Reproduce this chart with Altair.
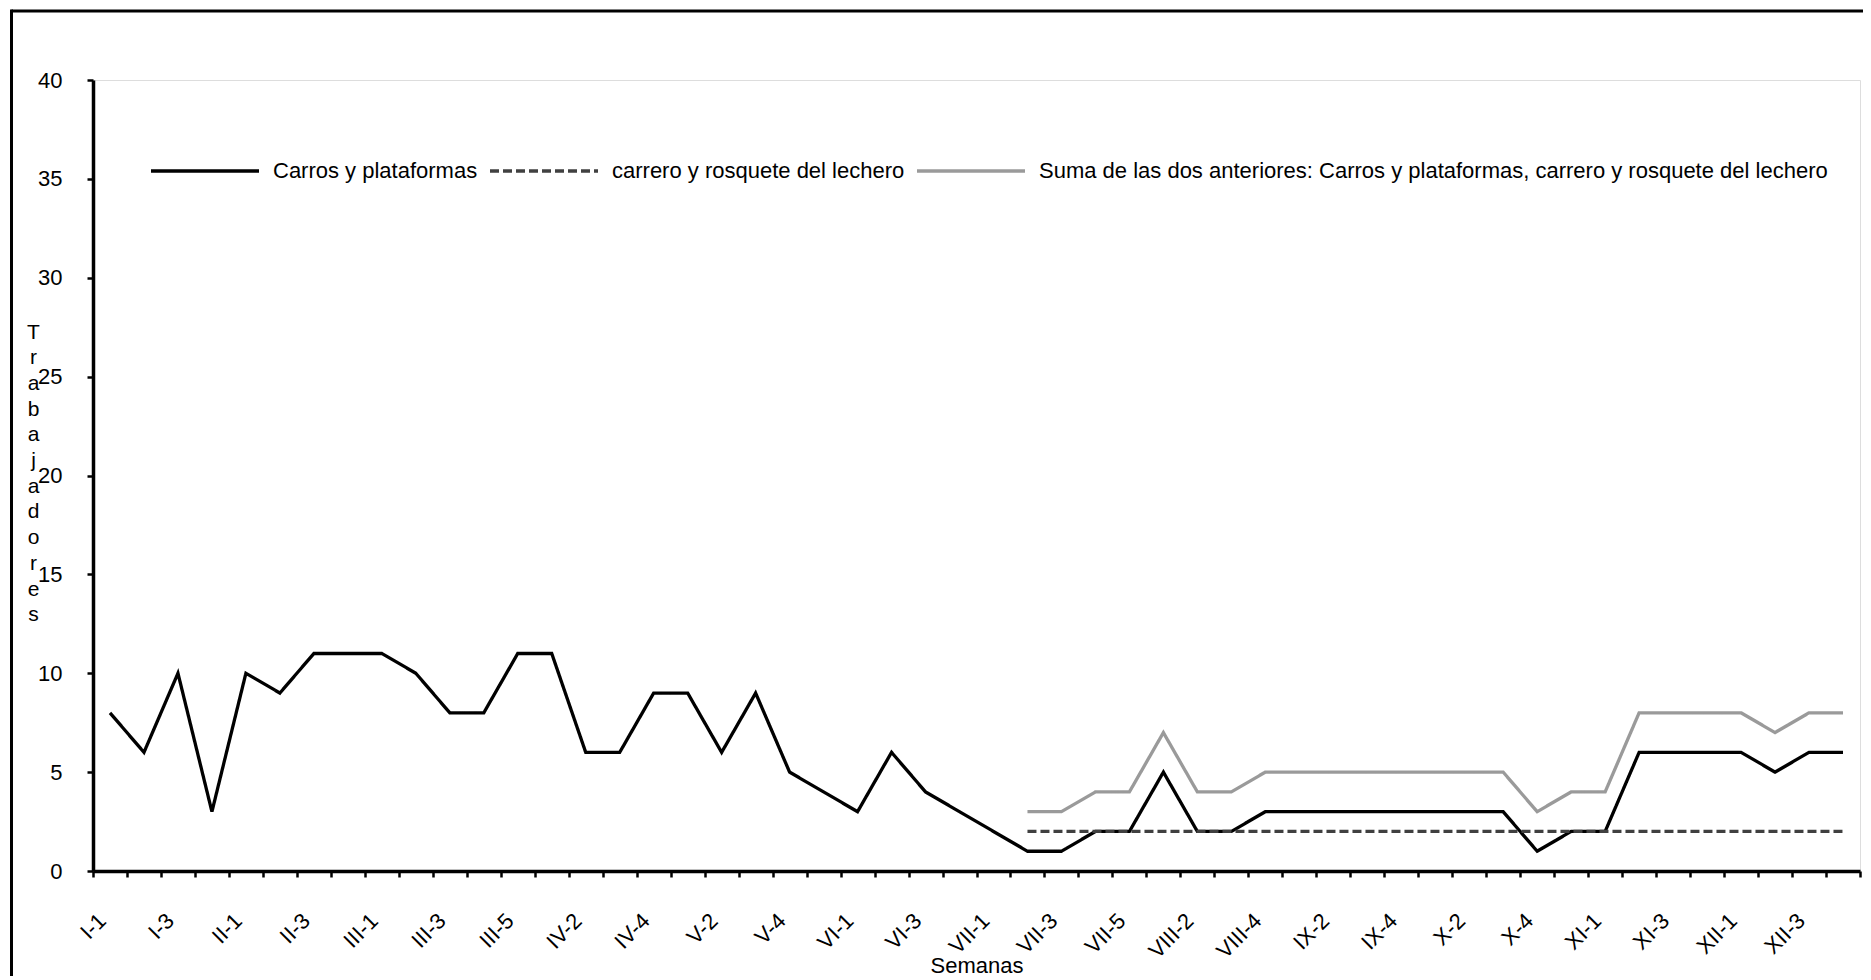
import altair as alt
import pandas as pd
import json

# ---- data ----
weeks = [
    "I-1", "I-2", "I-3", "I-4",
    "II-1", "II-2", "II-3", "II-4",
    "III-1", "III-2", "III-3", "III-4", "III-5",
    "IV-1", "IV-2", "IV-3", "IV-4",
    "V-1", "V-2", "V-3", "V-4", "V-5",
    "VI-1", "VI-2", "VI-3", "VI-4",
    "VII-1", "VII-2", "VII-3", "VII-4", "VII-5",
    "VIII-1", "VIII-2", "VIII-3", "VIII-4",
    "IX-1", "IX-2", "IX-3", "IX-4",
    "X-1", "X-2", "X-3", "X-4", "X-5",
    "XI-1", "XI-2", "XI-3", "XI-4",
    "XII-1", "XII-2", "XII-3", "XII-4",
]

carros = [8, 6, 10, 3, 10, 9, 11, 11, 11, 10,
          8, 8, 11, 11, 6, 6, 9, 9, 6, 9,
          5, 4, 3, 6, 4, 3, 2, 1, 1, 2,
          2, 5, 2, 2, 3, 3, 3, 3, 3, 3,
          3, 3, 1, 2, 2, 6, 6, 6, 6, 5,
          6, 6]

# series 2 and 3 start at VII-2
carrero_start = "VII-2"
carrero = [2, 2, 2, 2, 2, 2, 2, 2, 2, 2, 2, 2, 2,
           2, 2, 2, 2, 2, 2, 2, 2, 2, 2, 2, 2]
suma = [3, 3, 4, 4, 7, 4, 4, 5, 5, 5, 5, 5, 5,
        5, 5, 3, 4, 4, 8, 8, 8, 8, 7, 8, 8]

series_names = [
    "Carros y plataformas",
    "carrero y rosquete del lechero",
    "Suma de las dos anteriores: Carros y plataformas, carrero y rosquete del lechero",
]
series_colors = ["#000000", "#404040", "#9a9a9a"]
series_dash = [[1, 0], [9, 4], [1, 0]]

labeled_weeks = weeks[::2]

# ---- build long table ----
rows = []
for w, v in zip(weeks, carros):
    rows.append({"semana": w, "serie": series_names[0], "valor": v})
s = weeks.index(carrero_start)
for w, v in zip(weeks[s:], carrero):
    rows.append({"semana": w, "serie": series_names[1], "valor": v})
for w, v in zip(weeks[s:], suma):
    rows.append({"semana": w, "serie": series_names[2], "valor": v})
df = pd.DataFrame(rows)

W, H = 1767, 791
FONT = "Arial, Liberation Sans, sans-serif"
SYM = 108

label_expr = "indexof(" + json.dumps(labeled_weeks).replace('"', "'") + ", datum.value) >= 0 ? datum.label : ''"

legend_cfg = dict(
    title=None,
    orient="none",
    legendX=56,
    legendY=35,
    direction="horizontal",
    symbolType="stroke",
    symbolSize=SYM * SYM,
    symbolStrokeWidth=3.3,
    labelFontSize=22,
    labelFont=FONT,
    labelColor="black",
    labelOffset=12,
    columnPadding=5,
    labelLimit=1000,
)

lines = alt.Chart(df).mark_line(strokeWidth=3.3, strokeJoin="miter").encode(
    x=alt.X(
        "semana:N",
        sort=weeks,
        bandPosition=0.5,
        scale=alt.Scale(type="band", paddingInner=0, paddingOuter=0),
        axis=alt.Axis(
            title="Semanas",
            titleFontSize=22,
            titleFontWeight="normal",
            titleFont=FONT,
            titleColor="black",
            titleX=W / 2,
            titleY=101,
            titleBaseline="alphabetic",
            labelAngle=-45,
            labelAlign="right",
            labelBaseline="middle",
            labelFontSize=22,
            labelFont=FONT,
            labelColor="black",
            labelPadding=40,
            labelOffset=-8,
            labelExpr=label_expr,
            labelOverlap=False,
            labelBound=False,
            tickBand="extent",
            tickSize=6,
            tickWidth=2.5,
            tickColor="black",
            domainColor="black",
            domainWidth=3.5,
            grid=False,
        ),
    ),
    y=alt.Y(
        "valor:Q",
        scale=alt.Scale(domain=[0, 40], nice=False, zero=True),
        axis=alt.Axis(
            values=[0, 5, 10, 15, 20, 25, 30, 35, 40],
            title=list("Trabajadores"),
            titleAngle=0,
            titleX=-60,
            titleY=252,
            titleAlign="center",
            titleBaseline="middle",
            titleLineHeight=25.7,
            titleFontSize=21,
            titleFontWeight="normal",
            titleFont=FONT,
            titleColor="black",
            labelFontSize=22,
            labelFont=FONT,
            labelColor="black",
            labelPadding=25,
            tickSize=6,
            tickWidth=2.5,
            tickColor="black",
            domainColor="black",
            domainWidth=3.5,
            grid=False,
        ),
    ),
    color=alt.Color(
        "serie:N",
        sort=series_names,
        scale=alt.Scale(domain=series_names, range=series_colors),
        legend=alt.Legend(**legend_cfg),
    ),
    strokeDash=alt.StrokeDash(
        "serie:N",
        sort=series_names,
        scale=alt.Scale(domain=series_names, range=series_dash),
        legend=alt.Legend(**legend_cfg),
    ),
    detail="serie:N",
)

one = pd.DataFrame({"k": [0]})
border_top = alt.Chart(one).mark_rule(color="black", strokeWidth=3).encode(
    x=alt.value(-81.5), x2=alt.value(W + 20), y=alt.value(-69)
)
border_left = alt.Chart(one).mark_rule(color="black", strokeWidth=3).encode(
    x=alt.value(-81.5), y=alt.value(-70.5), y2=alt.value(H + 200)
)

chart = alt.layer(lines, border_top, border_left).properties(
    width=W,
    height=H,
    autosize=alt.AutoSizeParams(type="none"),
    padding={"left": 85, "top": 72, "right": 3, "bottom": 105},
).configure_view(stroke=None).configure(background="white")

chart.save("out.html", embed_options={"renderer": "svg", "actions": False})
